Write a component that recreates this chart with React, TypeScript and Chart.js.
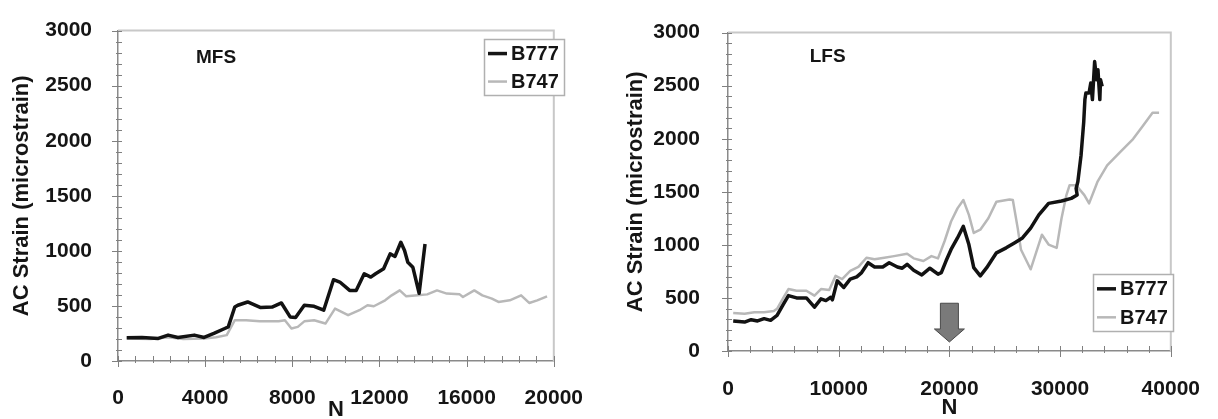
import React, { useEffect, useRef } from "react";
import { Chart, registerables } from "chart.js";

Chart.register(...registerables);

const FONT = "'Liberation Sans', Arial, Helvetica, sans-serif";

// ---------- MFS panel data ----------
const MFS_B777_N = [400, 1100, 1850, 2300, 2750, 3500, 3950, 4400, 4900, 5060, 5360, 5500, 5950, 6550, 7070, 7500, 7900, 8150, 8550, 9000, 9440, 9890, 10180, 10630, 10930, 11300, 11600, 11820, 12190, 12490, 12710, 12980, 13150, 13300, 13530, 13820, 14090];
const MFS_B777_V = [210, 214, 205, 235, 214, 235, 214, 250, 295, 310, 490, 506, 536, 485, 490, 527, 400, 395, 506, 497, 461, 738, 717, 641, 641, 792, 762, 792, 837, 973, 949, 1078, 1003, 897, 852, 615, 1063];

const MFS_B747_N = [400, 1500, 2300, 3000, 3950, 4500, 4990, 5360, 5880, 6500, 7370, 7660, 7960, 8250, 8550, 9000, 9520, 9960, 10560, 11080, 11450, 11740, 12260, 12560, 12930, 13230, 13750, 14190, 14640, 15090, 15680, 15830, 16350, 16720, 17160, 17460, 17980, 18500, 18870, 19240, 19690];
const MFS_B747_V = [205, 200, 215, 200, 205, 215, 235, 370, 370, 360, 361, 370, 295, 310, 360, 370, 340, 476, 416, 461, 506, 497, 551, 596, 641, 587, 596, 605, 641, 612, 605, 581, 641, 596, 566, 536, 551, 596, 527, 551, 587];

// ---------- LFS panel data ----------
const LFS_B777_N = [470, 1500, 2090, 2670, 3260, 3850, 4430, 5020, 5460, 6190, 7080, 7810, 8400, 8840, 9280, 9430, 9870, 10460, 11040, 11630, 12070, 12660, 13240, 13980, 14560, 15300, 15740, 16180, 16770, 17510, 18240, 18970, 19270, 19700, 20150, 20730, 21260, 21760, 22200, 22790, 23370, 24250, 25130, 25870, 26600, 27340, 28080, 28960, 30130, 31010, 31540, 31450, 31600, 31890, 32130, 32240, 32330, 32620, 32770, 32920, 33120, 33300, 33420, 33590, 33650, 33800];
const LFS_B777_V = [283, 273, 295, 283, 305, 289, 335, 444, 522, 500, 500, 413, 491, 475, 506, 482, 661, 599, 677, 699, 739, 832, 792, 792, 832, 792, 780, 817, 761, 717, 780, 724, 739, 850, 957, 1065, 1174, 1003, 785, 708, 785, 925, 972, 1018, 1065, 1158, 1283, 1391, 1413, 1438, 1469, 1531, 1593, 1842, 2152, 2369, 2432, 2432, 2525, 2369, 2727, 2556, 2649, 2369, 2556, 2494];

const LFS_B747_N = [470, 1500, 2380, 3260, 4140, 4430, 5020, 5460, 6190, 7080, 7810, 8400, 9140, 9720, 10310, 11040, 11780, 12510, 13240, 14120, 15000, 16180, 16770, 17650, 18380, 18970, 19560, 20150, 20730, 21260, 21760, 22200, 22790, 23520, 24250, 25430, 25730, 26170, 26460, 27340, 27780, 28360, 28960, 29690, 30130, 30570, 30860, 31450, 32190, 32620, 33370, 34250, 35420, 36590, 37470, 38350, 38940];
const LFS_B747_V = [357, 351, 366, 366, 376, 398, 506, 584, 568, 568, 522, 584, 575, 708, 677, 755, 792, 879, 864, 879, 894, 916, 873, 848, 894, 873, 1034, 1220, 1344, 1423, 1283, 1112, 1143, 1251, 1407, 1428, 1423, 1158, 957, 770, 910, 1096, 1003, 972, 1251, 1469, 1562, 1562, 1469, 1391, 1593, 1749, 1873, 1997, 2121, 2245, 2245];

const SERIES_NAMES = ["B777", "B747"];
const Y_TITLE = "AC Strain (microstrain)";
const X_TITLE = "N";

type Panel = {
  label: string;
  labelAt: [number, number];
  n777: number[];
  v777: number[];
  n747: number[];
  v747: number[];
  xMax: number;
  xMajor: number;
  xMinor: number;
  yMax: number;
  yMajor: number;
  yMinor: number;
  yAxisWidth: number;
  xAxisHeight: number;
  padRight: number;
  yTitlePad: number;
  yTickPad: number;
  xTickPad: number;
  xTitlePad: number;
  legend: { x: number; y: number; w: number; h: number };
  arrow?: { n: number; top: number; bottom: number };
};

const PANELS: Panel[] = [
  {
    label: "MFS", labelAt: [4500, 2750],
    n777: MFS_B777_N, v777: MFS_B777_V, n747: MFS_B747_N, v747: MFS_B747_V,
    xMax: 20000, xMajor: 4000, xMinor: 800, yMax: 3000, yMajor: 500, yMinor: 100,
    yAxisWidth: 118, xAxisHeight: 58, padRight: 33, yTitlePad: 11, yTickPad: 18, xTickPad: 17, xTitlePad: -2,
    legend: { x: 484, y: 39, w: 80, h: 56 },
  },
  {
    label: "LFS", labelAt: [9000, 2770],
    n777: LFS_B777_N, v777: LFS_B777_V, n747: LFS_B747_N, v747: LFS_B747_V,
    xMax: 40000, xMajor: 10000, xMinor: 2000, yMax: 3000, yMajor: 500, yMinor: 100,
    yAxisWidth: 128, xAxisHeight: 68, padRight: 36, yTitlePad: 25, yTickPad: 20, xTickPad: 18, xTitlePad: 0,
    legend: { x: 493, y: 274, w: 80, h: 57 },
    arrow: { n: 20000, top: 450, bottom: 85 },
  },
];

function makeChart(canvas: HTMLCanvasElement, p: Panel) {
  const deco = {
    id: "deco",
    beforeDatasetsDraw(chart: any) {
      const { ctx, chartArea: ca } = chart;
      ctx.save();
      ctx.strokeStyle = "#c8c8c8";
      ctx.lineWidth = 2;
      ctx.beginPath();
      ctx.moveTo(ca.left, ca.top);
      ctx.lineTo(ca.right, ca.top);
      ctx.lineTo(ca.right, ca.bottom);
      ctx.stroke();
      const xs = chart.scales.x;
      const ys = chart.scales.y;
      ctx.strokeStyle = "#808080";
      ctx.lineWidth = 1;
      ctx.beginPath();
      const ny = Math.round(p.yMax / p.yMinor);
      for (let i = 0; i <= ny; i++) {
        const v = i * p.yMinor;
        const major = v % p.yMajor === 0;
        const py = Math.round(ys.getPixelForValue(v)) + 0.5;
        ctx.moveTo(ca.left - (major ? 6 : 2), py);
        ctx.lineTo(ca.left + 4, py);
      }
      const nx = Math.round(p.xMax / p.xMinor);
      for (let i = 0; i <= nx; i++) {
        const v = i * p.xMinor;
        const major = v % p.xMajor === 0;
        const px = Math.round(xs.getPixelForValue(v)) + 0.5;
        ctx.moveTo(px, ca.bottom - 5);
        ctx.lineTo(px, ca.bottom + (major ? 6 : 2));
      }
      ctx.stroke();
      ctx.restore();
    },
    afterDatasetsDraw(chart: any) {
      const { ctx } = chart;
      const xs = chart.scales.x;
      const ys = chart.scales.y;
      ctx.save();
      ctx.fillStyle = "#151515";
      ctx.font = `bold 19px ${FONT}`;
      ctx.textAlign = "center";
      ctx.textBaseline = "middle";
      ctx.fillText(p.label, xs.getPixelForValue(p.labelAt[0]), ys.getPixelForValue(p.labelAt[1]));
      const L = p.legend;
      ctx.fillStyle = "#ffffff";
      ctx.fillRect(L.x, L.y, L.w, L.h);
      ctx.strokeStyle = "#b0b0b0";
      ctx.lineWidth = 1.5;
      ctx.strokeRect(L.x + 0.5, L.y + 0.5, L.w, L.h);
      const rows = [L.y + L.h * 0.26, L.y + L.h * 0.76];
      const cols = ["#151515", "#b8b8b8"];
      const widths = [3.5, 2.5];
      rows.forEach((ry, i) => {
        ctx.strokeStyle = cols[i];
        ctx.lineWidth = widths[i];
        ctx.beginPath();
        ctx.moveTo(L.x + 4, ry);
        ctx.lineTo(L.x + 23, ry);
        ctx.stroke();
        ctx.fillStyle = "#151515";
        ctx.font = `bold 20px ${FONT}`;
        ctx.textAlign = "left";
        ctx.textBaseline = "middle";
        ctx.fillText(SERIES_NAMES[i], L.x + 27, ry + 1);
      });
      if (p.arrow) {
        const cx = xs.getPixelForValue(p.arrow.n);
        const top = ys.getPixelForValue(p.arrow.top);
        const bot = ys.getPixelForValue(p.arrow.bottom);
        const headH = 13;
        ctx.fillStyle = "#7a7a7a";
        ctx.strokeStyle = "#4a4a4a";
        ctx.lineWidth = 1;
        ctx.beginPath();
        ctx.moveTo(cx - 9, top);
        ctx.lineTo(cx + 9, top);
        ctx.lineTo(cx + 9, bot - headH);
        ctx.lineTo(cx + 15, bot - headH);
        ctx.lineTo(cx, bot);
        ctx.lineTo(cx - 15, bot - headH);
        ctx.lineTo(cx - 9, bot - headH);
        ctx.closePath();
        ctx.fill();
        ctx.stroke();
      }
      ctx.restore();
    },
  };

  const tickFont = { family: FONT, size: 21, weight: "bold" as const };
  return new Chart(canvas, {
    type: "line",
    data: {
      datasets: [
        {
          label: SERIES_NAMES[0],
          data: p.n777.map((n, i) => ({ x: n, y: p.v777[i] })),
          borderColor: "#121212",
          borderWidth: 3.5,
          pointRadius: 0,
          tension: 0,
          borderJoinStyle: "round",
        },
        {
          label: SERIES_NAMES[1],
          data: p.n747.map((n, i) => ({ x: n, y: p.v747[i] })),
          borderColor: "#b8b8b8",
          borderWidth: 2.5,
          pointRadius: 0,
          tension: 0,
          borderJoinStyle: "round",
        },
      ],
    },
    options: {
      responsive: false,
      animation: false,
      devicePixelRatio: 1,
      layout: { padding: { left: 0, top: 29, right: p.padRight, bottom: 0 } },
      plugins: { legend: { display: false }, tooltip: { enabled: false } },
      scales: {
        x: {
          type: "linear",
          min: 0,
          max: p.xMax,
          grid: { display: false },
          border: { display: true, color: "#8a8a8a", width: 1.5 },
          ticks: {
            stepSize: p.xMajor,
            font: tickFont,
            color: "#151515",
            padding: p.xTickPad,
            maxRotation: 0,
            autoSkip: false,
            callback: (v: any) => String(v),
          },
          title: {
            display: true,
            text: X_TITLE,
            font: { family: FONT, size: 22, weight: "bold", lineHeight: 1 },
            color: "#151515",
            padding: { top: 0, bottom: p.xTitlePad },
          },
          afterFit: (s: any) => { s.height = p.xAxisHeight; },
        },
        y: {
          type: "linear",
          min: 0,
          max: p.yMax,
          grid: { display: false },
          border: { display: true, color: "#8a8a8a", width: 1.5 },
          ticks: {
            stepSize: p.yMajor,
            font: tickFont,
            color: "#151515",
            padding: p.yTickPad,
            callback: (v: any) => String(v),
          },
          title: {
            display: true,
            text: Y_TITLE,
            font: { family: FONT, size: 22, weight: "bold", lineHeight: 1 },
            color: "#151515",
            padding: { top: p.yTitlePad, bottom: 0 },
          },
          afterFit: (s: any) => { s.width = p.yAxisWidth; },
        },
      },
    },
    plugins: [deco],
  } as any);
}

function PanelChart({ panel, left, width }: { panel: Panel; left: number; width: number }) {
  const ref = useRef<HTMLCanvasElement | null>(null);
  useEffect(() => {
    if (!ref.current) return;
    const c = makeChart(ref.current, panel);
    return () => c.destroy();
  }, [panel]);
  return (
    <canvas
      ref={ref}
      width={width}
      height={419}
      style={{ position: "absolute", left, top: 0, width, height: 419, display: "block" }}
    />
  );
}

export default function App() {
  return (
    <div style={{ position: "fixed", left: 0, top: 0, width: 1218, height: 419, background: "#ffffff", overflow: "hidden" }}>
      <PanelChart panel={PANELS[0]} left={0} width={600} />
      <PanelChart panel={PANELS[1]} left={600} width={618} />
    </div>
  );
}
